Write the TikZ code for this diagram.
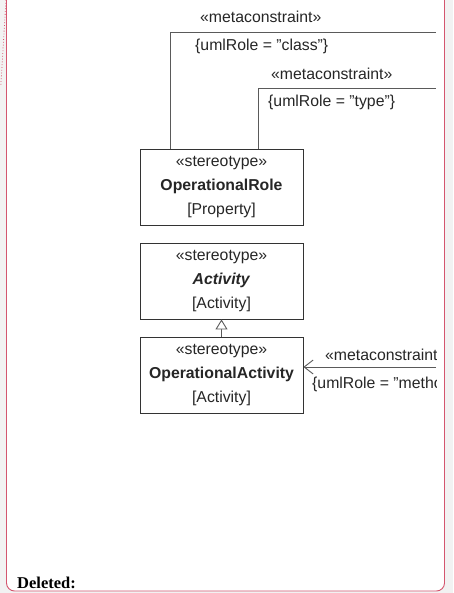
\documentclass[tikz,border=0pt]{standalone}
\usepackage{fontspec}
\setmainfont{Liberation Sans}[Ligatures=ResetAll]
\newfontfamily\serifbold{Liberation Serif}
\usetikzlibrary{arrows.meta,calc}
\definecolor{pagegray}{HTML}{F2F2F2}
\definecolor{balloon}{HTML}{D4566F}
\definecolor{edgegray}{HTML}{5A5A5A}
\definecolor{boxline}{HTML}{333333}
\definecolor{txt}{HTML}{262626}
\tikzset{
  umlfont/.style={font=\fontsize{15.8}{24}\selectfont, text=txt},
  stereobox/.style={draw=boxline, line width=0.9pt, fill=white, minimum width=163pt,
    minimum height=76pt, inner sep=0pt, align=center, umlfont},
  connector/.style={draw=edgegray, line width=0.9pt},
  edgelabel/.style={umlfont, inner sep=0pt, anchor=west}
}
\begin{document}
\begin{tikzpicture}[x=1pt, y=-1pt]
  % page and comment balloon
  \fill[pagegray] (0,0) rectangle (453,593);
  \useasboundingbox (0,0) rectangle (453,593);
  \filldraw[fill=white, draw=balloon, line width=0.9pt, rounded corners=8pt]
     (6.5,-5) -- (6.5,591) -- (444.5,591) -- (444.5,-5);
  \draw[balloon, line width=0.8pt, dotted] (6,0) -- (0.8,86);

  % stereotypes
  \node[stereobox] (role) at (221.5,187) {«stereotype»\\\textbf{OperationalRole}\\{[Property]}};
  \node[stereobox] (activity) at (221.5,281) {«stereotype»\\\textbf{\textit{Activity}}\\{[Activity]}};
  \node[stereobox] (opact) at (221.5,375.5) {«stereotype»\\\textbf{OperationalActivity}\\{[Activity]}};

  % generalization
  \draw[connector, -{Triangle[open, fill=white, length=10pt, width=12pt]}]
     (opact.north) -- (activity.south);

  % metaconstraints (cut at the right by the balloon)
  \coordinate (classend) at (436,32);
  \coordinate (typeend) at (436,88);
  \coordinate (methodend) at (436,367);
  \begin{scope}
    \clip (0,0) rectangle (436,593);
    \draw[connector] ($(role.north west)+(31,0)$) |- (classend);
    \node[edgelabel] (mc1) at (200,17) {«metaconstraint»};
    \node[edgelabel] (ur1) at (195,46) {\{umlRole = "class"\}};
    \draw[connector] ($(role.north west)+(119,0)$) |- (typeend);
    \node[edgelabel] (mc2) at (271,74) {«metaconstraint»};
    \node[edgelabel] (ur2) at (268,102) {\{umlRole = "type"\}};
    \draw[connector, -{Straight Barb[length=9pt, width=14pt]}] (methodend) -- (opact.east |- methodend);
    \node[edgelabel] (mc3) at (325,355) {«metaconstraint»};
    \node[edgelabel] (ur3) at (312,384) {\{umlRole = "method"\}};
  \end{scope}

  % balloon heading
  \node[anchor=base west, inner sep=0pt, font=\serifbold\bfseries\fontsize{16.5}{18}\selectfont]
     (deleted) at (17,588) {Deleted:};
\end{tikzpicture}
\end{document}
